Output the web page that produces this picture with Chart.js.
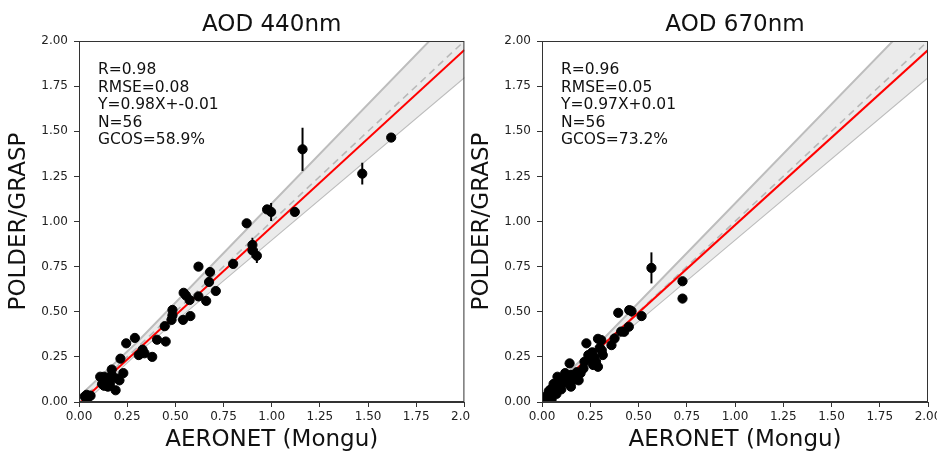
<!DOCTYPE html>
<html>
<head>
<meta charset="utf-8">
<script src="https://cdn.jsdelivr.net/npm/chart.js@4.4.0/dist/chart.umd.min.js"></script>
<style>
  html, body { margin: 0; padding: 0; background: #fff; }
  #wrap { position: relative; width: 937px; height: 452px; overflow: hidden; }
  .panel { position: absolute; top: 0; height: 452px; }
</style>
</head>
<body>
<div id="wrap">
  <div class="panel" style="left:0;width:470px"><canvas id="c440" width="470" height="452"></canvas></div>
  <div class="panel" style="left:463px;width:474px"><canvas id="c670" width="474" height="452"></canvas></div>
</div>
<script>
// AOD 440nm: AERONET (x), POLDER/GRASP (y), error on y
const aeronet440 = [0.03, 0.04, 0.05, 0.06, 0.045, 0.11, 0.12, 0.13, 0.14, 0.15, 0.16, 0.17, 0.17, 0.16,
  0.19, 0.21, 0.23, 0.215, 0.245, 0.29, 0.31, 0.325, 0.33, 0.34, 0.38, 0.405, 0.45, 0.445,
  0.485, 0.485, 0.48, 0.54, 0.578, 0.543, 0.555, 0.574, 0.62, 0.66, 0.71, 0.675, 0.68, 0.62,
  0.80, 0.90, 0.90, 0.923, 0.87, 0.976, 0.997, 1.12, 1.16, 1.47, 1.62, 0.13, 0.15, 0.20];
const polder440 = [0.03, 0.04, 0.03, 0.035, 0.025, 0.14, 0.10, 0.09, 0.12, 0.13, 0.11, 0.15, 0.18, 0.095,
  0.065, 0.12, 0.16, 0.24, 0.325, 0.355, 0.26, 0.27, 0.29, 0.27, 0.25, 0.345, 0.335, 0.42,
  0.51, 0.48, 0.455, 0.455, 0.476, 0.605, 0.59, 0.565, 0.585, 0.56, 0.615, 0.665, 0.72, 0.75,
  0.765, 0.87, 0.84, 0.81, 0.99, 1.067, 1.053, 1.053, 1.40, 1.265, 1.465, 0.14, 0.085, 0.13];
const err440 = [0.01, 0.01, 0.01, 0.01, 0.01, 0.01, 0.01, 0.01, 0.01, 0.01, 0.01, 0.01, 0.01, 0.01,
  0.01, 0.01, 0.01, 0.01, 0.01, 0.01, 0.01, 0.01, 0.01, 0.01, 0.01, 0.01, 0.01, 0.01,
  0.02, 0.02, 0.02, 0.02, 0.02, 0.02, 0.02, 0.02, 0.02, 0.02, 0.02, 0.02, 0.02, 0.02,
  0.02, 0.04, 0.04, 0.04, 0.02, 0.02, 0.05, 0.02, 0.12, 0.06, 0.025, 0.01, 0.01, 0.01];

// AOD 670nm
const aeronet670 = [0.02, 0.03, 0.025, 0.04, 0.05, 0.045, 0.06, 0.07, 0.075, 0.085, 0.09, 0.10, 0.11, 0.12,
  0.13, 0.143, 0.15, 0.15, 0.17, 0.18, 0.19, 0.215, 0.22, 0.23, 0.24, 0.25, 0.26, 0.265,
  0.28, 0.29, 0.29, 0.307, 0.30, 0.315, 0.31, 0.36, 0.376, 0.41, 0.426, 0.45, 0.395, 0.452,
  0.464, 0.516, 0.567, 0.728, 0.728, 0.035, 0.06, 0.08, 0.10, 0.12, 0.05, 0.16, 0.20, 0.27];
const polder670 = [0.01, 0.02, 0.035, 0.03, 0.05, 0.07, 0.06, 0.08, 0.045, 0.09, 0.12, 0.10, 0.13, 0.11,
  0.14, 0.214, 0.085, 0.15, 0.14, 0.165, 0.12, 0.186, 0.223, 0.325, 0.26, 0.24, 0.275, 0.205,
  0.223, 0.195, 0.35, 0.343, 0.30, 0.26, 0.285, 0.315, 0.352, 0.39, 0.389, 0.417, 0.494, 0.509,
  0.503, 0.476, 0.743, 0.669, 0.573, 0.06, 0.10, 0.14, 0.07, 0.16, 0.015, 0.12, 0.16, 0.25];
const err670 = [0.01, 0.01, 0.01, 0.01, 0.01, 0.01, 0.01, 0.01, 0.01, 0.01, 0.01, 0.01, 0.01, 0.01,
  0.01, 0.01, 0.01, 0.01, 0.01, 0.01, 0.01, 0.01, 0.01, 0.01, 0.01, 0.01, 0.01, 0.01,
  0.01, 0.01, 0.01, 0.01, 0.01, 0.01, 0.01, 0.01, 0.01, 0.01, 0.01, 0.01, 0.01, 0.02,
  0.03, 0.01, 0.086, 0.01, 0.02, 0.01, 0.01, 0.01, 0.01, 0.01, 0.01, 0.01, 0.01, 0.01];

// regression fits and stats text
const fit440 = { slope: 0.98, intercept: -0.01 };
const fit670 = { slope: 0.97, intercept: 0.01 };
const stats440 = ['R=0.98', 'RMSE=0.08', 'Y=0.98X+-0.01', 'N=56', 'GCOS=58.9%'];
const stats670 = ['R=0.96', 'RMSE=0.05', 'Y=0.97X+0.01', 'N=56', 'GCOS=73.2%'];

// GCOS envelope max(0.03, 10%) and the 1:1 line
const envX = [0, 0.3, 2];
const envUpper = [0.03, 0.33, 2.2];
const envLower = [-0.03, 0.27, 1.8];
const lineX = [0, 2];

const FONT = 'DejaVu Sans';

// frame, title and stats text
const annotate = {
  id: 'annotate',
  afterDraw(chart, args, opts) {
    const { ctx, chartArea: a } = chart;
    ctx.save();
    ctx.strokeStyle = '#333';
    ctx.lineWidth = 1;
    ctx.strokeRect(a.left + 0.5, a.top + 0.5, a.right - a.left - 1, a.bottom - a.top - 1);
    ctx.fillStyle = '#111';
    ctx.textBaseline = 'middle';
    ctx.textAlign = 'center';
    ctx.font = '23px "' + FONT + '"';
    ctx.fillText(opts.title, (a.left + a.right) / 2, a.top - 16);
    ctx.textAlign = 'left';
    ctx.font = '15.5px "' + FONT + '"';
    opts.lines.forEach((t, i) => ctx.fillText(t, a.left + 19, a.top + 29 + i * 17.6));
    ctx.restore();
  }
};

// vertical error bars on the scatter dataset
const errorBars = {
  id: 'errorBars',
  afterDatasetsDraw(chart, args, opts) {
    const { ctx, chartArea: a, scales: { x, y } } = chart;
    ctx.save();
    ctx.beginPath();
    ctx.rect(a.left, a.top, a.right - a.left, a.bottom - a.top);
    ctx.clip();
    ctx.strokeStyle = '#000';
    ctx.lineWidth = 2;
    opts.xs.forEach((xv, i) => {
      const px = x.getPixelForValue(xv);
      ctx.beginPath();
      ctx.moveTo(px, y.getPixelForValue(opts.ys[i] - opts.err[i]));
      ctx.lineTo(px, y.getPixelForValue(opts.ys[i] + opts.err[i]));
      ctx.stroke();
    });
    ctx.restore();
  }
};

function toPoints(xs, ys) {
  return xs.map((x, i) => ({ x: x, y: ys[i] }));
}

function axis(title, isX) {
  return {
    type: 'linear',
    min: 0,
    max: 2,
    afterFit: s => {
      if (isX) { s.height = 50; s.paddingLeft = 0; s.paddingRight = 0; }
      else { s.width = 79; s.paddingTop = 0; s.paddingBottom = 0; }
    },
    ticks: {
      stepSize: 0.25,
      autoSkip: false,
      maxRotation: 0,
      padding: isX ? 3 : 6,
      color: '#222',
      font: { family: FONT, size: 12 },
      callback: v => v.toFixed(2)
    },
    grid: { drawOnChartArea: false, drawTicks: true, tickLength: 5, color: '#333' },
    border: { display: true, color: '#333', width: 1 },
    title: {
      display: true,
      text: title,
      color: '#111',
      font: { family: FONT, size: 23, lineHeight: 1 },
      padding: isX ? { top: 0, bottom: 0 } : { top: 8, bottom: 0 }
    }
  };
}

function buildChart(id, title, xs, ys, err, fit, stats, padRight) {
  const ctx = document.getElementById(id).getContext('2d');
  new Chart(ctx, {
    type: 'scatter',
    data: {
      datasets: [
        {
          data: toPoints(xs, ys),
          backgroundColor: '#000',
          borderColor: '#000',
          pointRadius: 4.6,
          pointHoverRadius: 4.6
        },
        {
          type: 'line',
          data: toPoints(lineX, lineX.map(x => fit.slope * x + fit.intercept)),
          borderColor: '#ff0000',
          borderWidth: 2,
          pointRadius: 0,
          fill: false
        },
        {
          type: 'line',
          data: toPoints(lineX, lineX),
          borderColor: '#b8b8b8',
          borderWidth: 1.6,
          borderDash: [7, 5],
          pointRadius: 0,
          fill: false
        },
        {
          type: 'line',
          data: toPoints(envX, envUpper),
          borderColor: '#bdbdbd',
          borderWidth: 2,
          backgroundColor: '#ebebeb',
          pointRadius: 0,
          fill: '+1'
        },
        {
          type: 'line',
          data: toPoints(envX, envLower),
          borderColor: '#bdbdbd',
          borderWidth: 2,
          pointRadius: 0,
          fill: false
        }
      ]
    },
    options: {
      responsive: false,
      animation: false,
      layout: { padding: { top: 41, right: padRight, left: 0, bottom: 0 } },
      plugins: {
        legend: { display: false },
        tooltip: { enabled: false },
        annotate: { title: title, lines: stats },
        errorBars: { xs: xs, ys: ys, err: err }
      },
      scales: {
        x: axis('AERONET (Mongu)', true),
        y: axis('POLDER/GRASP', false)
      }
    },
    plugins: [annotate, errorBars]
  });
}

document.addEventListener('DOMContentLoaded', () => {
  buildChart('c440', 'AOD 440nm', aeronet440, polder440, err440, fit440, stats440, 5);
  buildChart('c670', 'AOD 670nm', aeronet670, polder670, err670, fit670, stats670, 9);
});
</script>
</body>
</html>
